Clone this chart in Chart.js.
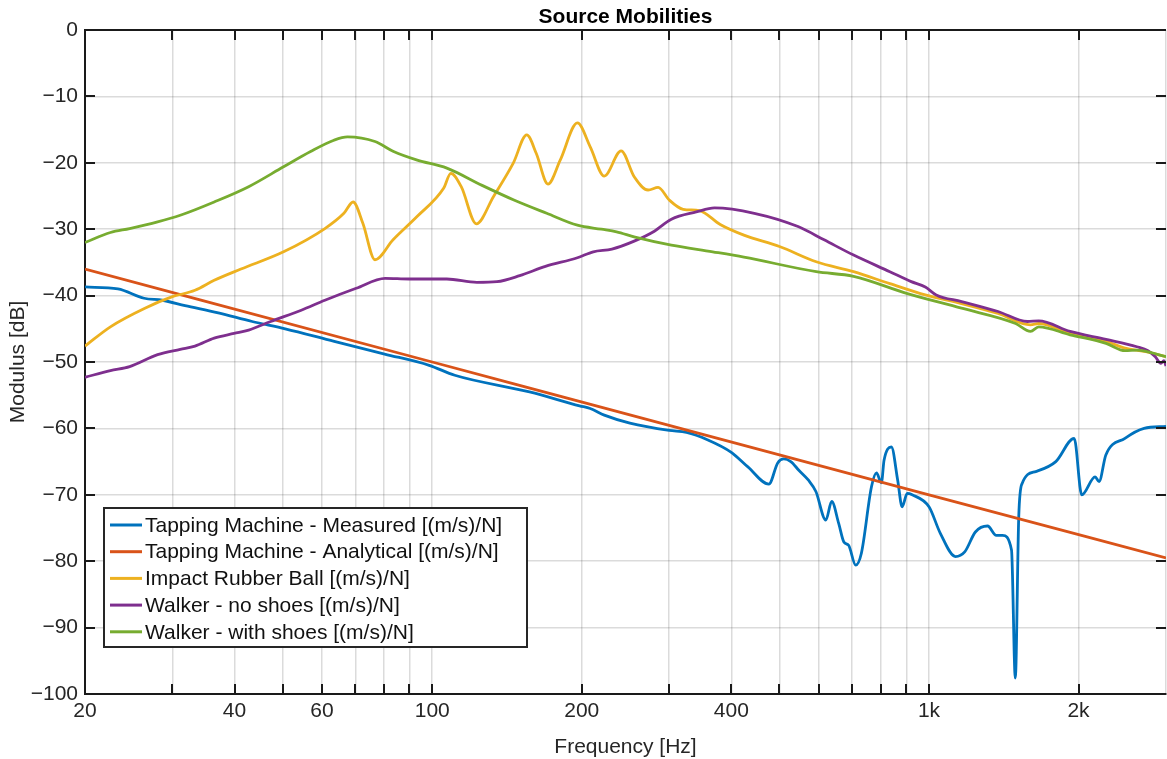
<!DOCTYPE html>
<html>
<head>
<meta charset="utf-8">
<title>Source Mobilities</title>
<script src="https://cdn.jsdelivr.net/npm/chart.js@4.4.1/dist/chart.umd.min.js"></script>
<style>
  html, body { margin: 0; padding: 0; background: #ffffff; }
  #wrap { width: 1167px; height: 759px; }
</style>
</head>
<body>
<div id="wrap"><canvas id="c" width="1167" height="759"></canvas></div>
<script>
// ---- axis ticks ----
const xTickValues = [20, 30, 40, 50, 60, 70, 80, 90, 100, 200, 300, 400, 500, 600, 700, 800, 900, 1000, 2000, 3000];
const xTickLabels = ['20', '', '40', '', '60', '', '', '', '100', '200', '', '400', '', '', '', '', '', '1k', '2k', ''];
const yTickValues = [0, -10, -20, -30, -40, -50, -60, -70, -80, -90, -100];

// ---- series (frequency in Hz, modulus in dB) ----
const measuredFreq = [20, 23.3, 26.3, 28.6, 31.8, 37.1, 43.4, 50.6, 63.5, 80.2, 98.6, 111, 157, 198, 208, 222, 250, 300, 325, 358,
  400, 432, 476, 496, 510, 527, 547, 572, 592, 620, 637, 658, 674, 689, 712, 731, 766, 784, 802, 812,
  840, 865, 883, 904, 925, 1000, 1054, 1131, 1180, 1240, 1312, 1366, 1406, 1466, 1492, 1516, 1540, 1640, 1800, 1960,
  2030, 2160, 2200, 2270, 2480, 2710, 3000];
const measuredDb = [-38.7, -39.0, -40.4, -40.7, -41.5, -42.6, -43.9, -45.0, -46.9, -48.8, -50.5, -52.0, -54.5, -56.6, -57.0, -58.0, -59.2, -60.3, -60.6, -61.7,
  -63.6, -65.8, -68.4, -65.2, -64.6, -65.0, -66.3, -67.8, -69.5, -73.8, -71.0, -74.3, -77.1, -77.6, -80.6, -78.8, -68.8, -66.7, -68.2, -64.8,
  -62.8, -67.8, -71.8, -69.8, -70.0, -71.8, -75.8, -79.3, -78.6, -75.6, -74.7, -76.1, -76.1, -78.3, -97.6, -73.3, -68.3, -66.5, -65.0, -61.5,
  -70.0, -67.3, -68.0, -64.0, -61.5, -60.0, -59.7];

const analyticalFreq = [20, 100, 1000, 3000];
const analyticalDb = [-36.0, -50.0, -70.0, -79.5];

const ballFreq = [20, 22.5, 26.4, 29.9, 33.3, 36.4, 41.2, 50.2, 60.8, 66.4, 69.3, 72.5, 76.7, 83.4, 93.2, 105.5, 109, 114.4, 122.7, 132.8,
  145.5, 155, 162, 171, 181, 196, 208, 222, 240, 255, 272, 285, 300, 320, 345, 380, 424, 500, 593, 705,
  834, 983, 1163, 1377, 1601, 1663, 1923, 2272, 2482, 2712, 3000];
const ballDb = [-47.6, -44.7, -41.9, -40.2, -39.2, -37.7, -36.0, -33.4, -29.9, -27.6, -25.9, -29.1, -34.6, -31.6, -28.1, -23.8, -21.6, -23.6, -29.2, -25.1,
  -20.1, -15.8, -18.6, -23.2, -19.6, -14.0, -17.6, -22.0, -18.2, -22.1, -24.1, -23.7, -25.6, -27.0, -27.2, -29.3, -30.9, -32.6, -34.9, -36.4,
  -38.2, -39.9, -41.2, -42.7, -44.4, -44.2, -45.7, -46.9, -47.9, -48.4, -49.2];

const barefootFreq = [20, 22.5, 24.6, 28, 31.1, 33.3, 36.4, 39.9, 42.7, 47.3, 54.5, 60.8, 70.3, 80.4, 89.9, 107, 123, 135, 150, 169,
  196, 211, 230, 255, 280, 303, 340, 370, 445, 545, 615, 705, 834, 921, 983, 1034, 1163, 1377, 1578, 1663,
  1923, 2272, 2621, 2760, 2855, 2930, 2970, 3000];
const barefootDb = [-52.3, -51.3, -50.7, -48.9, -48.1, -47.6, -46.4, -45.7, -45.2, -43.9, -42.2, -40.7, -38.9, -37.4, -37.5, -37.5, -38.0, -37.9, -37.0, -35.6,
  -34.3, -33.4, -33.0, -31.8, -30.3, -28.5, -27.4, -26.8, -27.6, -29.6, -31.6, -33.9, -36.4, -37.9, -38.7, -39.9, -40.9, -42.4, -43.9, -43.8,
  -45.4, -46.6, -47.7, -48.3, -49.2, -50.2, -49.8, -50.6];

const shoesFreq = [20, 22.5, 24.6, 28, 31.1, 36.4, 42.7, 50.2, 56.9, 63.4, 67.5, 76.7, 83.6, 93.3, 107, 126, 146, 170, 196, 219,
  235, 256, 303, 367, 424, 593, 705, 905, 1163, 1494, 1601, 1663, 1923, 2272, 2483, 2621, 3000];
const shoesDb = [-32.0, -30.5, -29.9, -28.9, -27.9, -25.9, -23.6, -20.6, -18.3, -16.6, -16.1, -16.8, -18.3, -19.6, -20.8, -23.4, -25.6, -27.6, -29.4, -30.0,
  -30.4, -31.2, -32.4, -33.4, -34.2, -36.4, -37.1, -39.7, -41.9, -44.2, -45.4, -44.7, -45.9, -47.2, -48.3, -48.2, -49.2];

const seriesNames = [
  'Tapping Machine - Measured [(m/s)/N]',
  'Tapping Machine - Analytical [(m/s)/N]',
  'Impact Rubber Ball [(m/s)/N]',
  'Walker - no shoes [(m/s)/N]',
  'Walker - with shoes [(m/s)/N]'
];
const seriesColors = ['#0072BD', '#D95319', '#EDB120', '#7E2F8E', '#77AC30'];

const FONT = '"Liberation Sans", Arial, Helvetica, sans-serif';
const pairs = (f, v) => f.map((x, i) => ({ x: x, y: v[i] }));

const seriesData = [
  pairs(measuredFreq, measuredDb),
  pairs(analyticalFreq, analyticalDb),
  pairs(ballFreq, ballDb),
  pairs(barefootFreq, barefootDb),
  pairs(shoesFreq, shoesDb)
];

// frame, inward tick marks, frequency labels, titles and the boxed legend
const decorations = {
  id: 'decorations',
  afterDatasetsDraw(chart) {
    const { ctx, chartArea: a, scales: { x, y } } = chart;
    ctx.save();
    ctx.strokeStyle = '#1a1a1a';
    ctx.lineWidth = 2;
    ctx.beginPath();
    ctx.moveTo(a.left, a.top); ctx.lineTo(a.right, a.top);
    ctx.stroke();
    const len = 10;
    ctx.beginPath();
    xTickValues.forEach(v => {
      const px = Math.round(x.getPixelForValue(v));
      if (px <= a.left + 1 || px >= a.right - 1) return;
      ctx.moveTo(px, a.bottom); ctx.lineTo(px, a.bottom - len);
      ctx.moveTo(px, a.top); ctx.lineTo(px, a.top + len);
    });
    yTickValues.forEach(v => {
      const py = Math.round(y.getPixelForValue(v));
      if (py <= a.top + 1 || py >= a.bottom - 1) return;
      ctx.moveTo(a.left, py); ctx.lineTo(a.left + len, py);
      ctx.moveTo(a.right, py); ctx.lineTo(a.right - len, py);
    });
    ctx.stroke();

    // frequency tick labels
    ctx.font = '21px ' + FONT;
    ctx.fillStyle = '#262626';
    ctx.textAlign = 'center';
    ctx.textBaseline = 'middle';
    xTickValues.forEach((v, i) => {
      if (xTickLabels[i]) ctx.fillText(xTickLabels[i], x.getPixelForValue(v), a.bottom + 17);
    });

    // legend box
    const lx = a.left + 19, ly = a.top + 478, lw = 423, lh = 139;
    ctx.fillStyle = '#ffffff';
    ctx.fillRect(lx, ly, lw, lh);
    ctx.strokeStyle = '#262626';
    ctx.lineWidth = 2;
    ctx.strokeRect(lx, ly, lw, lh);
    ctx.font = '21px ' + FONT;
    ctx.textBaseline = 'middle';
    ctx.textAlign = 'left';
    seriesNames.forEach((name, i) => {
      const cy = ly + 17 + i * 26.7;
      ctx.strokeStyle = seriesColors[i];
      ctx.lineWidth = 3;
      ctx.beginPath();
      ctx.moveTo(lx + 6, cy); ctx.lineTo(lx + 38, cy);
      ctx.stroke();
      ctx.fillStyle = '#111111';
      ctx.fillText(name, lx + 41, cy + 1);
    });

    // titles
    const cx = (a.left + a.right) / 2;
    ctx.fillStyle = '#000000';
    ctx.textAlign = 'center';
    ctx.font = 'bold 21px ' + FONT;
    ctx.textBaseline = 'alphabetic';
    ctx.fillText('Source Mobilities', cx, 23);
    ctx.font = '21px ' + FONT;
    ctx.fillStyle = '#262626';
    ctx.fillText('Frequency [Hz]', cx, 753);
    ctx.translate(18, (a.top + a.bottom) / 2);
    ctx.rotate(-Math.PI / 2);
    ctx.textBaseline = 'middle';
    ctx.fillText('Modulus [dB]', 0, 0);
    ctx.restore();
  }
};

const gridStyle = { color: 'rgba(0,0,0,0.14)', lineWidth: 1.5, drawTicks: false };
const borderStyle = { display: true, color: '#1a1a1a', width: 2 };

new Chart(document.getElementById('c'), {
  type: 'line',
  data: {
    datasets: seriesData.map((d, i) => ({
      label: seriesNames[i],
      data: d,
      borderColor: seriesColors[i],
      backgroundColor: seriesColors[i],
      borderWidth: 2.8,
      pointRadius: 0,
      fill: false,
      cubicInterpolationMode: 'monotone',
      order: 5 - i
    }))
  },
  options: {
    responsive: false,
    animation: false,
    devicePixelRatio: 1,
    layout: { padding: { top: 30, right: 1, left: 0, bottom: 0 } },
    plugins: { legend: { display: false }, tooltip: { enabled: false }, title: { display: false } },
    scales: {
      x: {
        type: 'logarithmic',
        min: 20,
        max: 3000,
        afterFit(s) { s.height = 65; s.paddingLeft = 0; s.paddingRight = 0; },
        afterBuildTicks(s) { s.ticks = xTickValues.map(v => ({ value: v })); },
        ticks: { display: false, autoSkip: false, maxRotation: 0, minRotation: 0, padding: 0 },
        grid: gridStyle,
        border: borderStyle
      },
      y: {
        type: 'linear',
        min: -100,
        max: 0,
        afterFit(s) { s.width = 85; },
        afterBuildTicks(s) { s.ticks = yTickValues.map(v => ({ value: v })); },
        ticks: {
          padding: 7, color: '#262626', font: { family: FONT, size: 21 },
          callback: v => (v < 0 ? '\u2212' + Math.abs(v) : String(v))
        },
        grid: gridStyle,
        border: borderStyle
      }
    }
  },
  plugins: [decorations]
});
</script>
</body>
</html>
